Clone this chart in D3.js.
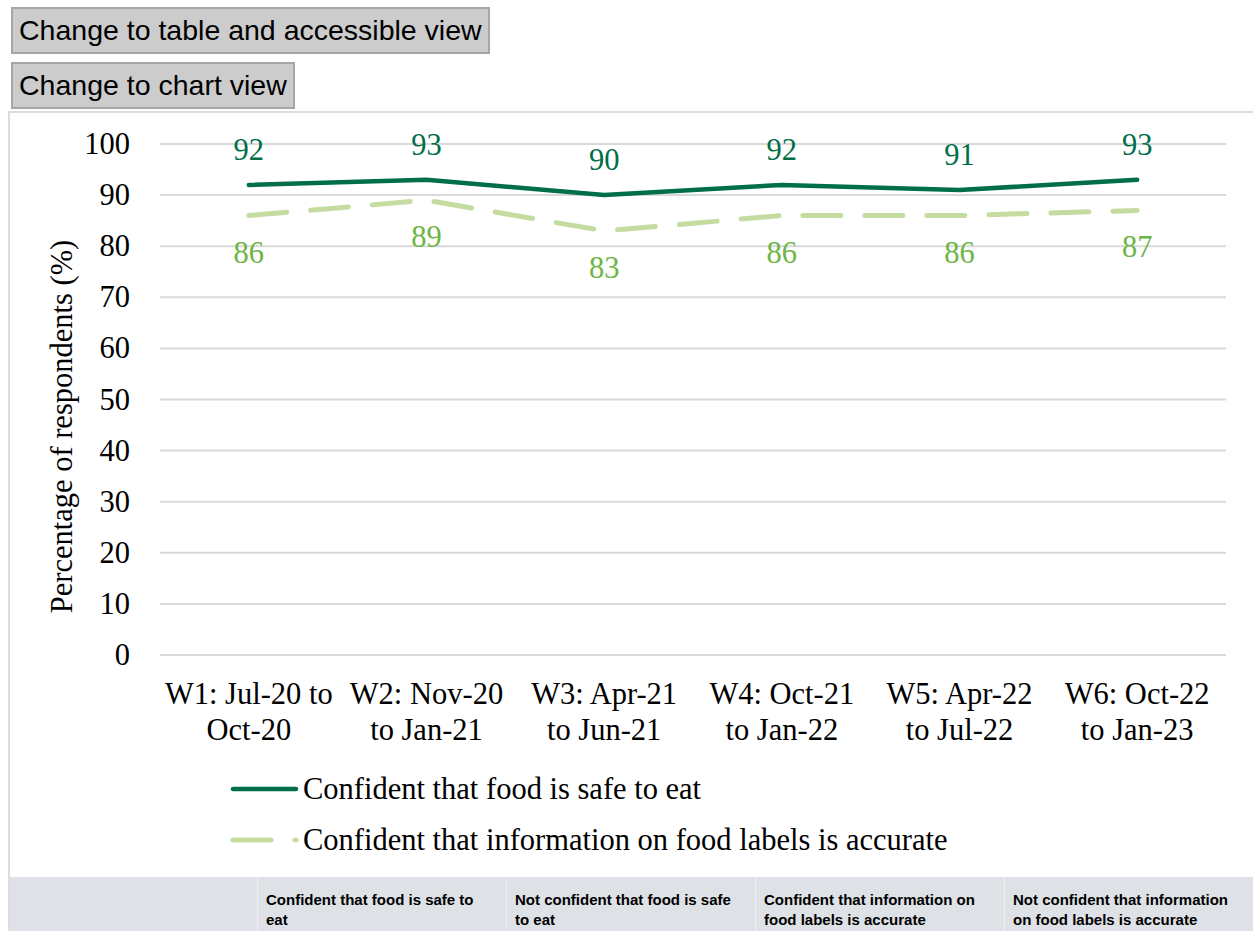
<!DOCTYPE html>
<html>
<head>
<meta charset="utf-8">
<script src="https://cdn.jsdelivr.net/npm/d3@7"></script>
<style>
  html, body { margin: 0; padding: 0; background: #fff; overflow: hidden; }
  body { width: 1253px; height: 931px; position: relative; }
  .btn {
    position: absolute; left: 11px; height: 47px; box-sizing: border-box;
    background: #cccccc; border: 2px solid #a6a6a6;
    font-family: "Liberation Sans", Arial, sans-serif; font-size: 28.5px; color: #000;
    line-height: 43px; padding: 0 6px; white-space: nowrap;
  }
  #panel {
    position: absolute; left: 8px; top: 111px; width: 1260px; height: 767px;
    box-sizing: border-box; border: 2px solid #dddddd; border-bottom: none;
  }
  #thead {
    position: absolute; left: 8px; top: 877px; width: 1245px; height: 54px;
    background: #dee2e6; display: flex; border-left: 2px solid #dddddd; box-sizing: border-box;
  }
  #thead div {
    box-sizing: border-box; padding: 13px 8px 0 8px; height: 54px;
    font-family: "Liberation Sans", Arial, sans-serif; font-weight: bold; font-size: 15px;
    line-height: 20px; color: #000; border-left: 1px solid #eceff1;
  }
  svg { position: absolute; left: 0; top: 0; }
</style>
</head>
<body>
<div class="btn" style="top:7px;">Change to table and accessible view</div>
<div class="btn" style="top:62px;">Change to chart view</div>
<div id="panel"></div>
<div id="thead"></div>
<svg id="chart" width="1253" height="877"></svg>
<script>
// Survey waves shown along the x axis (two lines each)
const categories = [
  ["W1: Jul-20 to", "Oct-20"],
  ["W2: Nov-20", "to Jan-21"],
  ["W3: Apr-21", "to Jun-21"],
  ["W4: Oct-21", "to Jan-22"],
  ["W5: Apr-22", "to Jul-22"],
  ["W6: Oct-22", "to Jan-23"]
];
const seriesNames = [
  "Confident that food is safe to eat",
  "Confident that information on food labels is accurate"
];
const safeToEat = [92, 93, 90, 92, 91, 93];
const labelsAccurate = [86, 89, 83, 86, 86, 87];
const yTicks = [0, 10, 20, 30, 40, 50, 60, 70, 80, 90, 100];
const tableHeaders = [
  "",
  "Confident that food is safe to eat",
  "Not confident that food is safe to eat",
  "Confident that information on food labels is accurate",
  "Not confident that information on food labels is accurate"
];

const darkGreen = "#006f48";
const lightLine = "#c5dca1";
const lightText = "#6db544";
const serif = "'Liberation Serif', 'Times New Roman', serif";
const fontSize = 30.5;

const svg = d3.select("#chart");
const plotLeft = 160, plotRight = 1226, plotTop = 144, plotBottom = 655;

const x = d3.scaleBand().domain(d3.range(categories.length)).range([plotLeft, plotRight]);
const y = d3.scaleLinear().domain([0, 100]).range([plotBottom, plotTop]);
const cx = i => x(i) + x.bandwidth() / 2;

// Horizontal gridlines
svg.append("g").selectAll("line").data(yTicks).join("line")
  .attr("x1", plotLeft).attr("x2", plotRight)
  .attr("y1", d => y(d)).attr("y2", d => y(d))
  .attr("stroke", "#d9d9d9").attr("stroke-width", 2);

// Y axis tick labels
svg.append("g").selectAll("text").data(yTicks).join("text")
  .attr("x", 130).attr("y", d => y(d)).attr("dy", "0.33em")
  .attr("text-anchor", "end")
  .attr("font-family", serif).attr("font-size", fontSize).attr("fill", "#000")
  .text(d => d);

// Y axis title
svg.append("text")
  .attr("transform", `translate(72,${(plotTop + plotBottom) / 2 + 27}) rotate(-90)`)
  .attr("text-anchor", "middle")
  .attr("font-family", serif).attr("font-size", fontSize).attr("fill", "#000")
  .text("Percentage of respondents (%)");

// X axis category labels
const xl = svg.append("g").selectAll("text").data(categories).join("text")
  .attr("x", (d, i) => cx(i)).attr("y", 704)
  .attr("text-anchor", "middle")
  .attr("font-family", serif).attr("font-size", fontSize).attr("fill", "#000");
xl.selectAll("tspan").data(d => d).join("tspan")
  .attr("x", function () { return this.parentNode.getAttribute("x"); })
  .attr("dy", (d, j) => j === 0 ? 0 : 36)
  .text(d => d);

const line = d3.line().x((d, i) => cx(i)).y(d => y(d));

// Labels-accurate series (dashed)
svg.append("path").datum(labelsAccurate)
  .attr("d", line).attr("fill", "none")
  .attr("stroke", lightLine).attr("stroke-width", 5)
  .attr("stroke-linecap", "round").attr("stroke-linejoin", "round")
  .attr("stroke-dasharray", "38 24");

// Safe-to-eat series (solid)
svg.append("path").datum(safeToEat)
  .attr("d", line).attr("fill", "none")
  .attr("stroke", darkGreen).attr("stroke-width", 4.5)
  .attr("stroke-linecap", "round").attr("stroke-linejoin", "round");

// Data labels
svg.append("g").selectAll("text").data(safeToEat).join("text")
  .attr("x", (d, i) => cx(i)).attr("y", d => y(d) - 25)
  .attr("text-anchor", "middle")
  .attr("font-family", serif).attr("font-size", fontSize).attr("fill", darkGreen)
  .text(d => d);
svg.append("g").selectAll("text").data(labelsAccurate).join("text")
  .attr("x", (d, i) => cx(i)).attr("y", d => y(d) + 47)
  .attr("text-anchor", "middle")
  .attr("font-family", serif).attr("font-size", fontSize).attr("fill", lightText)
  .text(d => d);

// Legend
const legend = svg.append("g");
const legendRows = [
  { name: seriesNames[0], color: darkGreen, dash: null, w: 4.5, y: 789 },
  { name: seriesNames[1], color: lightLine, dash: "38 24", w: 5, y: 840 }
];
legendRows.forEach(r => {
  legend.append("line")
    .attr("x1", 233).attr("x2", 296).attr("y1", r.y).attr("y2", r.y)
    .attr("stroke", r.color).attr("stroke-width", r.w)
    .attr("stroke-linecap", "round")
    .attr("stroke-dasharray", r.dash);
  legend.append("text")
    .attr("x", 303).attr("y", r.y).attr("dy", "0.33em")
    .attr("font-family", serif).attr("font-size", fontSize).attr("fill", "#000")
    .text(r.name);
});

// Table header row below the chart
d3.select("#thead").selectAll("div").data(tableHeaders).join("div")
  .style("width", (d, i) => i === 0 ? "248px" : "250px")
  .style("border-left", (d, i) => i === 0 ? "none" : null)
  .text(d => d);
</script>
</body>
</html>
